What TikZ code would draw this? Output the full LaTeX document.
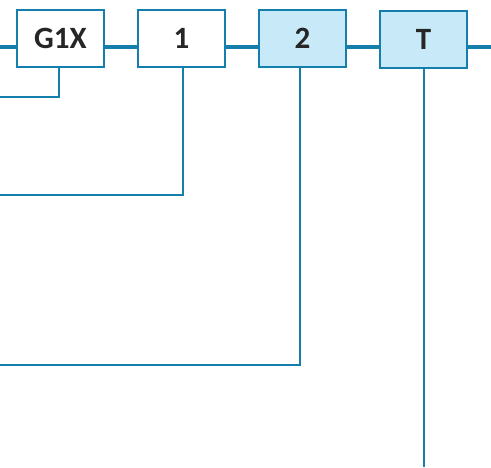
\documentclass[tikz,border=0pt]{standalone}
\usepackage{fontspec}
\setmainfont{Carlito}
\definecolor{lineblue}{RGB}{20,126,172}
\definecolor{boxblue}{RGB}{200,233,248}
\begin{document}
\begin{tikzpicture}[x=1pt, y=-1pt,
  block/.style={rectangle, draw=lineblue, line width=2pt, fill=white, minimum width=87pt, minimum height=57pt, inner sep=0pt, font=\fontsize{31}{31}\selectfont\bfseries, text=black!85},
  shaded/.style={block, fill=boxblue},
  bus/.style={draw=lineblue, line width=4pt},
  wire/.style={draw=lineblue, line width=2pt}
]
  \useasboundingbox (0,0) rectangle (491,467);
  \node[block] (g1x) at (60.5,38.5) {G1X};
  \node[block] (one) at (181.5,38.5) {1};
  \node[shaded] (two) at (302.5,38.5) {2};
  \node[shaded] (tee) at (423.5,39.5) {T};
  \coordinate (lft) at (0,46.7);
  \coordinate (rgt) at (491,46.7);
  % main line through the blocks
  \draw[bus] (lft) -- (lft -| g1x.west);
  \draw[bus] (lft -| g1x.east) -- (lft -| one.west);
  \draw[bus] (lft -| one.east) -- (lft -| two.west);
  \draw[bus] (lft -| two.east) -- (lft -| tee.west);
  \draw[bus] (lft -| tee.east) -- (rgt);
  % taps down from the blocks
  \coordinate (g1xout) at (0,97);
  \coordinate (oneout) at (0,195);
  \coordinate (twoout) at (0,365);
  \coordinate (teeout) at (424,467);
  \draw[wire] ([xshift=-1.5pt]g1x.south) |- (g1xout);
  \draw[wire] ([xshift=1.5pt]one.south) |- (oneout);
  \draw[wire] ([xshift=-2.5pt]two.south) |- (twoout);
  \draw[wire] (teeout |- tee.south) -- (teeout);
\end{tikzpicture}
\end{document}
